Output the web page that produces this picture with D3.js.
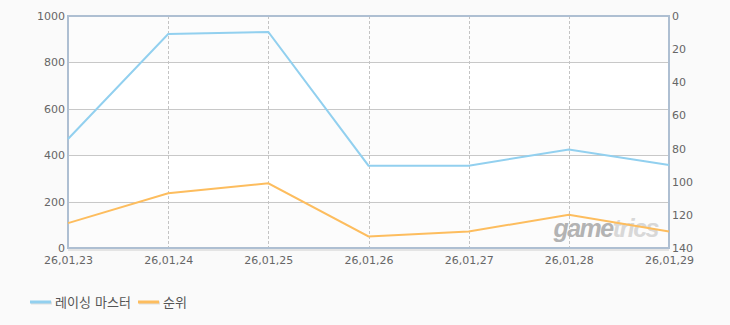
<!DOCTYPE html>
<html>
<head>
<meta charset="utf-8">
<script src="https://cdn.jsdelivr.net/npm/d3@7"></script>
<style>
  body { margin: 0; background: #fafafa; }
  svg text { font-family: "DejaVu Sans", "Noto Sans CJK KR", sans-serif; }
</style>
</head>
<body>
<div id="chart"></div>
<script>
var dates = ['26,01,23', '26,01,24', '26,01,25', '26,01,26', '26,01,27', '26,01,28', '26,01,29'];
var users = [470, 922, 931, 355, 355, 425, 358];
var ranks = [125, 107, 101, 133, 130, 120, 130];
var leftTicks = [0, 200, 400, 600, 800, 1000];
var rightTicks = [0, 20, 40, 60, 80, 100, 120, 140];
var seriesNames = ['레이싱 마스터', '순위'];
var seriesColors = ['#92d0ef', '#fdbd5e'];

var margin = {left: 68, right: 61, top: 16, bottom: 77};
var W = 730, H = 325;
var w = W - margin.left - margin.right, h = H - margin.top - margin.bottom;

var svg = d3.select('#chart').append('svg')
    .attr('width', W).attr('height', H);
var g = svg.append('g')
    .attr('transform', 'translate(' + margin.left + ',' + margin.top + ')');

var x = d3.scalePoint().domain(dates).range([0, w]);
var yL = d3.scaleLinear().domain([0, 1000]).range([h, 0]);
var yR = d3.scaleLinear().domain([0, 140]).range([0, h]);

// alternating bands
g.selectAll('.band').data(d3.pairs(leftTicks)).enter().append('rect')
    .attr('x', 0).attr('width', w)
    .attr('y', d => yL(d[1])).attr('height', d => yL(d[0]) - yL(d[1]))
    .attr('fill', (d, i) => i % 2 ? '#ffffff' : '#fcfcfc');

// horizontal grid
g.selectAll('.hgrid').data(leftTicks.slice(1, -1)).enter().append('line')
    .attr('x1', 0).attr('x2', w)
    .attr('y1', d => Math.round(yL(d)) + 0.5).attr('y2', d => Math.round(yL(d)) + 0.5)
    .attr('stroke', '#c8c8c8');

// vertical dashed grid
g.selectAll('.vgrid').data(dates.slice(1, -1)).enter().append('line')
    .attr('x1', d => Math.round(x(d)) + 0.5).attr('x2', d => Math.round(x(d)) + 0.5)
    .attr('y1', 0).attr('y2', h)
    .attr('stroke', '#c4c4c4').attr('stroke-dasharray', '3,2');

// watermark
var wm = g.append('text')
    .attr('x', w - 11).attr('y', h - 11)
    .attr('text-anchor', 'end')
    .style('font-family', '"Liberation Sans", Arial, sans-serif')
    .style('font-size', '25px').style('font-weight', 'bold').style('font-style', 'italic')
    .attr('letter-spacing', '-1.5');
wm.append('tspan').attr('fill', '#b3b3b3').text('game');
wm.append('tspan').attr('fill', '#d8d8d8').text('trics');

// frame
g.append('line').attr('x1', 0).attr('x2', w).attr('y1', h + 2).attr('y2', h + 2)
    .attr('stroke', '#e4e4e4').attr('stroke-width', 2);
g.append('rect').attr('x', 0).attr('y', 0).attr('width', w).attr('height', h)
    .attr('fill', 'none').attr('stroke', '#aebfd2').attr('stroke-width', 2);

// lines
var lineL = d3.line().x((d, i) => x(dates[i])).y(d => yL(d));
var lineR = d3.line().x((d, i) => x(dates[i])).y(d => yR(d));
g.append('path').datum(users).attr('d', lineL)
    .attr('fill', 'none').attr('stroke', seriesColors[0]).attr('stroke-width', 2);
g.append('path').datum(ranks).attr('d', lineR)
    .attr('fill', 'none').attr('stroke', seriesColors[1]).attr('stroke-width', 2);

// axes
var axL = g.append('g').call(d3.axisLeft(yL).tickValues(leftTicks).tickFormat(d3.format('d')).tickSize(0).tickPadding(3));
var axR = g.append('g').attr('transform', 'translate(' + w + ',0)')
    .call(d3.axisRight(yR).tickValues(rightTicks).tickFormat(d3.format('d')).tickSize(0).tickPadding(3));
var axB = g.append('g').attr('transform', 'translate(0,' + h + ')')
    .call(d3.axisBottom(x).tickSize(0).tickPadding(8));
[axL, axR, axB].forEach(function(a) {
  a.select('.domain').remove();
  a.selectAll('text').attr('fill', '#666').style('font-size', '11px');
});

// legend
var leg = svg.append('g').attr('transform', 'translate(30,302)');
var items = leg.selectAll('g').data(seriesNames).enter().append('g')
    .attr('transform', (d, i) => 'translate(' + [0, 108][i] + ',0)');
items.append('line').attr('x1', 1).attr('x2', 22).attr('y1', 1).attr('y2', 1)
    .attr('stroke', '#e0e0e0').attr('stroke-width', 3);
items.append('line').attr('x1', 0).attr('x2', 21).attr('y1', 0).attr('y2', 0)
    .attr('stroke', (d, i) => seriesColors[i]).attr('stroke-width', 3);
items.append('text').attr('x', 25).attr('y', 5)
    .attr('fill', '#555').style('font-size', '13px').text(d => d);
</script>
</body>
</html>
